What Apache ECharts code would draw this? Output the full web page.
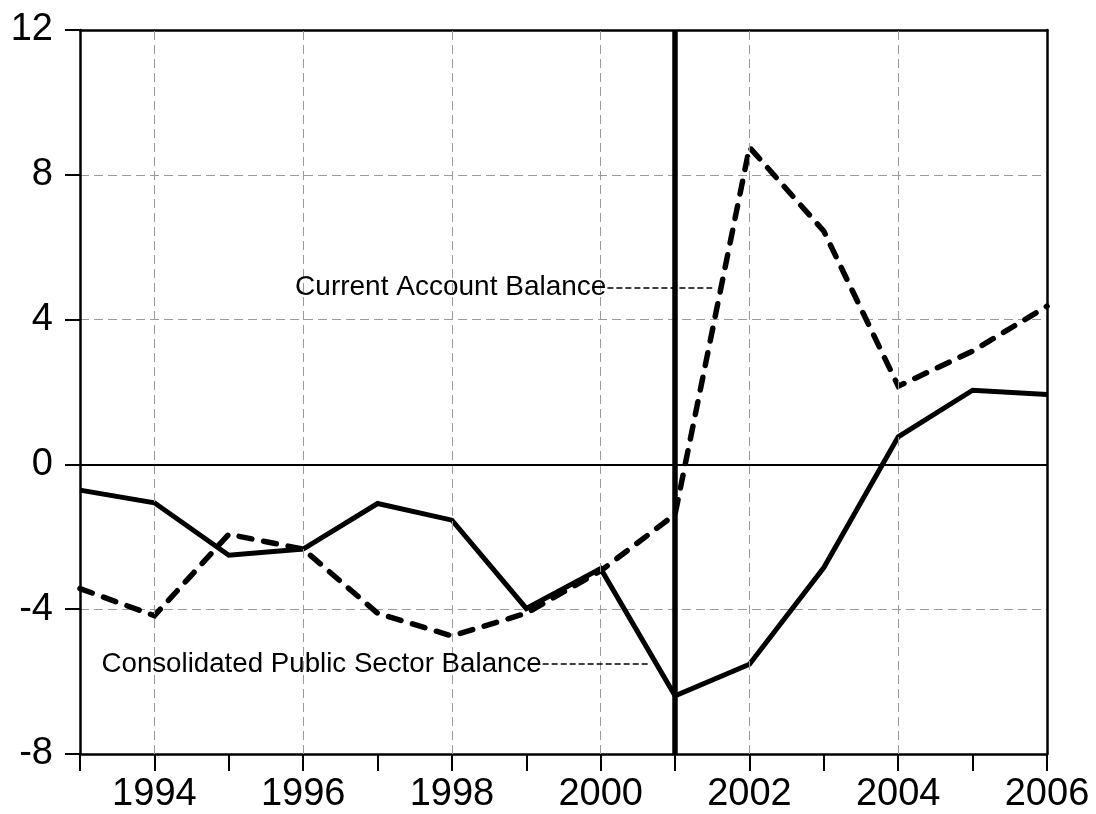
<!DOCTYPE html>
<html>
<head>
<meta charset="utf-8">
<script src="https://cdn.jsdelivr.net/npm/echarts@6/dist/echarts.min.js"></script>
<style>
html,body{margin:0;padding:0;background:#fff;}
#chart{width:1096px;height:814px;}
</style>
</head>
<body>
<div id="chart"></div>
<script>
const years = [1993,1994,1995,1996,1997,1998,1999,2000,2001,2002,2003,2004,2005,2006];
const publicSectorBalance = [-0.71,-1.06,-2.51,-2.34,-1.08,-1.54,-3.98,-2.88,-6.39,-5.52,-2.85,0.76,2.05,1.93];
const currentAccountBalance = [-3.43,-4.18,-1.93,-2.34,-4.11,-4.74,-4.11,-2.94,-1.38,8.76,6.44,2.16,3.13,4.37];
const xLabelYears = [1994,1996,1998,2000,2002,2004,2006];
const gridYears = [1994,1996,1998,2000,2002,2004];
const yTicks = [-8,-4,0,4,8,12];
const eventYear = 2001;
const annotations = [
  {text:'Current Account Balance', size:28, from:[2000.09,4.88], to:[2001.5,4.88]},
  {text:'Consolidated Public Sector Balance', size:27.7, from:[1999.22,-5.52], to:[2000.67,-5.52]}
];

const pairs = (vals) => years.map((y,i) => [y, vals[i]]);
const FONT = '"Liberation Sans", Arial, sans-serif';
const xMin = years[0], xMax = years[years.length-1];
const yMin = yTicks[0], yMax = yTicks[yTicks.length-1];

const chart = echarts.init(document.getElementById('chart'), null, {renderer:'canvas'});
chart.setOption({
  animation:false,
  backgroundColor:'#fff',
  grid:{left:80, right:49, top:30, bottom:58, show:false},
  xAxis:[{
    type:'value', min:xMin, max:xMax, interval:1,
    axisLine:{show:true, onZero:false, lineStyle:{color:'#000', width:2.5}},
    axisTick:{show:true, length:17, inside:false, lineStyle:{color:'#000', width:2}},
    axisLabel:{show:true, margin:22, color:'#000', fontSize:38, fontFamily:FONT,
      formatter:(v)=> xLabelYears.indexOf(v) >= 0 ? String(v) : ''},
    splitLine:{show:false}
  },{
    type:'value', position:'top', min:xMin, max:xMax, interval:1,
    axisLine:{show:true, onZero:false, lineStyle:{color:'#000', width:2.5}},
    axisTick:{show:false}, axisLabel:{show:false}, splitLine:{show:false}
  }],
  yAxis:[{
    type:'value', min:yMin, max:yMax, interval:4,
    axisLine:{show:true, onZero:false, lineStyle:{color:'#000', width:2.5}},
    axisTick:{show:true, length:15, lineStyle:{color:'#000', width:2}},
    axisLabel:{show:true, margin:27, color:'#000', fontSize:38, fontFamily:FONT},
    splitLine:{show:true, lineStyle:{color:'#9a9a9a', width:1, type:[9,5]}}
  },{
    type:'value', position:'right', min:yMin, max:yMax, interval:4,
    axisLine:{show:true, onZero:false, lineStyle:{color:'#000', width:2.5}},
    axisTick:{show:false}, axisLabel:{show:false}, splitLine:{show:false}
  }],
  series:[
    {
      type:'line', z:1, data:pairs(publicSectorBalance), showSymbol:false, silent:true,
      lineStyle:{opacity:0},
      markLine:{
        silent:true, symbol:['none','none'], animation:false,
        label:{show:false},
        data: gridYears.map(y => ({xAxis:y, lineStyle:{color:'#9a9a9a', width:1, type:[9,5]}}))
          .concat([{yAxis:0, lineStyle:{color:'#000', width:2, type:'solid'}}])
      }
    },
    {
      type:'line', z:2, data:pairs(currentAccountBalance), showSymbol:false, silent:true,
      lineStyle:{opacity:0},
      markLine:{
        silent:true, symbol:['none','none'], animation:false,
        data: annotations.map(a => [
          {coord:a.from, label:{show:true, position:'start', distance:1, formatter:a.text,
            color:'#000', fontSize:a.size, fontFamily:FONT},
           lineStyle:{color:'#000', width:1.5, type:[6,3]}},
          {coord:a.to}
        ])
      }
    },
    {
      name:'Current Account Balance', type:'line', z:3, data:pairs(currentAccountBalance),
      showSymbol:false, silent:true,
      lineStyle:{color:'#000', width:5.5, type:[13,12], cap:'round', join:'miter'}
    },
    {
      name:'Consolidated Public Sector Balance', type:'line', z:4, data:pairs(publicSectorBalance),
      showSymbol:false, silent:true,
      lineStyle:{color:'#000', width:5, type:'solid', join:'miter'},
      markLine:{
        silent:true, symbol:['none','none'], animation:false, label:{show:false},
        data:[{xAxis:eventYear, lineStyle:{color:'#000', width:5.5, type:'solid'}}]
      }
    }
  ]
});
</script>
</body>
</html>
